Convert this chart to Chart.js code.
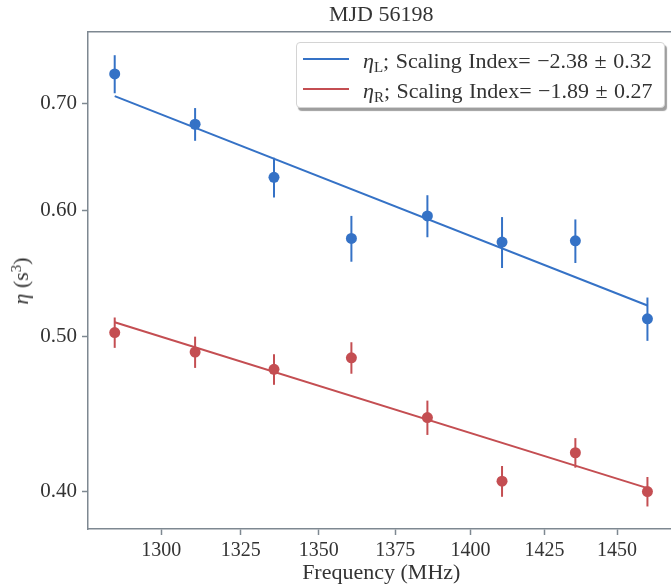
<!DOCTYPE html>
<html>
<head>
<meta charset="utf-8">
<script src="https://cdn.jsdelivr.net/npm/chart.js@4.4.1/dist/chart.umd.min.js"></script>
<style>
  body { margin: 0; overflow: hidden; background: #fff; }
  #wrap { position: relative; width: 680px; height: 586px; }
  #legend { position: absolute; left: 296px; top: 42px; width: 367px; height: 64px; background: #fff;
    border: 1px solid #d4d4d4; border-radius: 4px; box-shadow: 2px 3px 1px rgba(0,0,0,0.38); }
  .swatch { position: absolute; left: 303px; width: 46px; height: 2px; }
  .entry { position: absolute; left: 363px; height: 30px; line-height: 30px; white-space: nowrap;
    font-family: 'Liberation Serif', 'Times New Roman', serif; font-size: 22px; color: #333; word-spacing: 1px; }
  .entry sub { font-size: 15px; vertical-align: -4px; line-height: 0; }
  #ylabel { position: absolute; left: 21px; top: 281px; white-space: nowrap; transform: translate(-50%, -50%) rotate(-90deg);
    font-family: 'Liberation Serif', 'Times New Roman', serif; font-size: 22px; color: #333; line-height: 26px; }
  #ylabel sup { font-size: 15px; vertical-align: 7px; line-height: 0; }
</style>
</head>
<body>
<div id="wrap">
  <canvas id="chart"></canvas>
  <div id="legend"></div>
  <div class="swatch" style="top:58px;background:#3572c6"></div>
  <div class="swatch" style="top:88px;background:#c44e52"></div>
  <div class="entry" style="top:46px"><i>η</i><sub>L</sub>; Scaling Index= −2.38 ± 0.32</div>
  <div class="entry" style="top:76px"><i>η</i><sub>R</sub>; Scaling Index= −1.89 ± 0.27</div>
  <div id="ylabel"><i>η</i> (s<sup>3</sup>)</div>
</div>
<script>
const freq = [1285.6, 1310.6, 1335.6, 1360.6, 1385.6, 1410.6, 1435.6, 1460.6];
const etaL = [0.730, 0.679, 0.629, 0.576, 0.595, 0.573, 0.574, 0.513];
const etaLErr = [0.020, 0.016, 0.018, 0.019, 0.018, 0.021, 0.018, 0.016];
const etaR = [0.503, 0.489, 0.477, 0.485, 0.445, 0.406, 0.423, 0.400];
const etaRErr = [0.011, 0.011, 0.0105, 0.011, 0.011, 0.009, 0.009, 0.0085];
const fitFreq = [1285.6, 1460.6];
const fitL = [0.707, 0.523];
const fitR = [0.5105, 0.402];
const xTicks = [1300, 1325, 1350, 1375, 1400, 1425, 1450];
const yTicks = [0.40, 0.50, 0.60, 0.70];

const blue = '#3572c6';
const red = '#c44e52';
const spine = '#7e8891';
const textColor = '#333';
const F = "'Liberation Serif', 'Times New Roman', serif";

function points(xs, ys) {
  return xs.map((x, i) => ({ x: x, y: ys[i] }));
}

// vertical error bars, drawn through the chart's scales
const errorBars = {
  id: 'errorBars',
  afterDatasetsDraw(chart) {
    const ctx = chart.ctx;
    const xs = chart.scales.x, ys = chart.scales.y;
    chart.data.datasets.forEach(ds => {
      if (!ds.errors) return;
      ctx.save();
      ctx.strokeStyle = ds.backgroundColor;
      ctx.lineWidth = 2;
      ds.data.forEach((p, j) => {
        const px = xs.getPixelForValue(p.x);
        ctx.beginPath();
        ctx.moveTo(px, ys.getPixelForValue(p.y - ds.errors[j]));
        ctx.lineTo(px, ys.getPixelForValue(p.y + ds.errors[j]));
        ctx.stroke();
      });
      ctx.restore();
    });
  }
};

const axisGrid = { display: true, drawOnChartArea: false, drawTicks: true, tickLength: 6, tickWidth: 1.5, color: spine };
const axisBorder = { display: true, color: spine, width: 1.5 };

new Chart(document.getElementById('chart'), {
  type: 'scatter',
  data: {
    datasets: [
      { label: 'fitL', type: 'line', data: points(fitFreq, fitL), borderColor: blue, borderWidth: 2,
        pointRadius: 0, fill: false, order: 2 },
      { label: 'fitR', type: 'line', data: points(fitFreq, fitR), borderColor: red, borderWidth: 2,
        pointRadius: 0, fill: false, order: 2 },
      { label: 'etaL', data: points(freq, etaL), errors: etaLErr, backgroundColor: blue, borderWidth: 0,
        pointRadius: 5.5, order: 1 },
      { label: 'etaR', data: points(freq, etaR), errors: etaRErr, backgroundColor: red, borderWidth: 0,
        pointRadius: 5.5, order: 1 }
    ]
  },
  options: {
    responsive: true,
    maintainAspectRatio: false,
    animation: false,
    events: [],
    layout: { padding: { left: 0, right: 3, top: 0, bottom: 0 } },
    plugins: { legend: { display: false }, tooltip: { enabled: false } },
    scales: {
      x: {
        type: 'logarithmic', position: 'bottom', min: 1277.4, max: 1470.1, bounds: 'data',
        afterBuildTicks: s => { s.ticks = xTicks.map(v => ({ value: v })); },
        afterFit: s => { s.height = 57; },
        ticks: { callback: v => String(v), font: { family: F, size: 20 }, color: textColor, padding: 4,
          maxRotation: 0, autoSkip: false },
        grid: axisGrid,
        border: axisBorder,
        title: { display: true, text: 'Frequency (MHz)', font: { family: F, size: 22 }, color: textColor,
          padding: { top: 0, bottom: 0 } }
      },
      x2: {
        type: 'logarithmic', position: 'top', min: 1277.4, max: 1470.1, bounds: 'data',
        afterFit: s => { s.height = 32; },
        ticks: { display: false },
        grid: { display: false },
        border: axisBorder,
        title: { display: true, text: 'MJD 56198', font: { family: F, size: 22 }, color: textColor,
          padding: { top: 2, bottom: 0 } }
      },
      y: {
        type: 'logarithmic', position: 'left', min: 0.379, max: 0.7755, bounds: 'data',
        afterBuildTicks: s => { s.ticks = yTicks.map(v => ({ value: v })); },
        afterFit: s => { s.width = 88; },
        ticks: { callback: v => Number(v).toFixed(2), font: { family: F, size: 21 }, color: textColor, padding: 5 },
        grid: axisGrid,
        border: axisBorder
      }
    }
  },
  plugins: [errorBars]
});
</script>
</body>
</html>
